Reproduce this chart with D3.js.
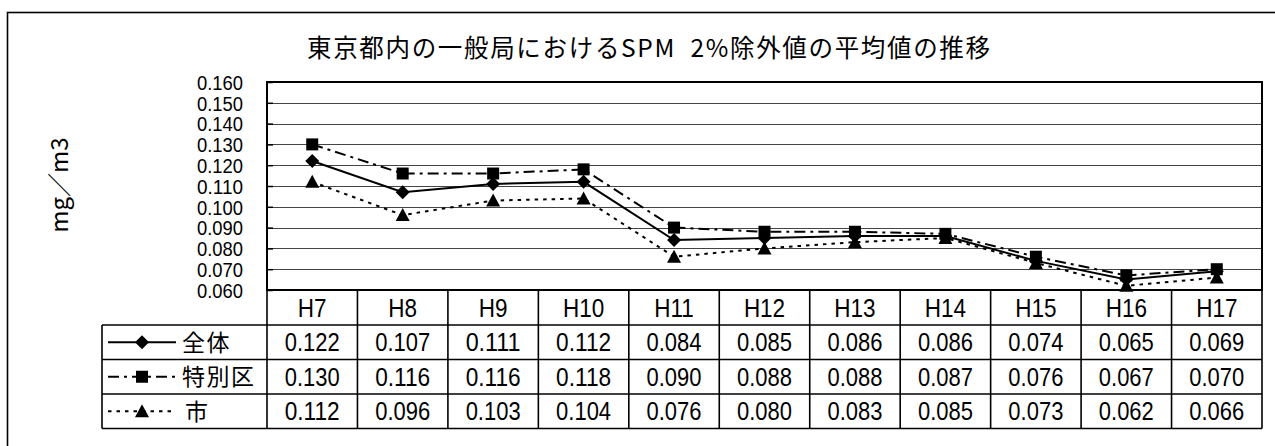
<!DOCTYPE html>
<html>
<head>
<meta charset="utf-8">
<script src="https://cdn.jsdelivr.net/npm/d3@7"></script>
<style>
  html, body { margin: 0; padding: 0; background: #fff; }
  svg { display: block; }
</style>
</head>
<body>
<svg id="chart" width="1275" height="446"></svg>
<script>
// Fiscal years (Heisei)
const categories = ["H7", "H8", "H9", "H10", "H11", "H12", "H13", "H14", "H15", "H16", "H17"];
// Annual 2% excluded value averages of SPM (mg/m3)
const allValues   = [0.122, 0.107, 0.111, 0.112, 0.084, 0.085, 0.086, 0.086, 0.074, 0.065, 0.069];
const wardValues  = [0.130, 0.116, 0.116, 0.118, 0.090, 0.088, 0.088, 0.087, 0.076, 0.067, 0.070];
const cityValues  = [0.112, 0.096, 0.103, 0.104, 0.076, 0.080, 0.083, 0.085, 0.073, 0.062, 0.066];
const seriesNames = ["全体", "特別区", "市"];
const yTicks = [0.060, 0.070, 0.080, 0.090, 0.100, 0.110, 0.120, 0.130, 0.140, 0.150, 0.160];
const titleText = "東京都内の一般局におけるSPM\u00a0\u00a02%除外値の平均値の推移";
const yLabel = "mg／m3";

const series = [
  { name: seriesNames[0], values: allValues,  dash: null,       marker: "diamond" },
  { name: seriesNames[1], values: wardValues, dash: "11,5,3,5", marker: "square" },
  { name: seriesNames[2], values: cityValues, dash: "3.5,5",    marker: "triangle" }
];

const svg = d3.select("#chart");
const latin = "'Liberation Sans', Arial, sans-serif";
const cjk = "'Noto Sans CJK JP', 'Noto Sans CJK SC', sans-serif";

const plot = { left: 267, right: 1262, top: 82, bottom: 290 };
const table = { left: 102, rowH: 34.5 };
const rowTop = [plot.bottom, plot.bottom + 35, plot.bottom + 35 + table.rowH, plot.bottom + 35 + 2 * table.rowH, plot.bottom + 35 + 3 * table.rowH];

const x = d3.scaleBand().domain(categories).range([plot.left, plot.right]).padding(0);
const y = d3.scaleLinear().domain([0.06, 0.16]).range([plot.bottom, plot.top]);
const fmt = d3.format(".3f");

// outer frame (runs off the right and bottom edges)
svg.append("rect")
  .attr("x", 7.5).attr("y", 12.5).attr("width", 1400).attr("height", 600)
  .attr("fill", "none").attr("stroke", "#000").attr("stroke-width", 1.6);

// title
svg.append("text")
  .attr("x", 307).attr("y", 57)
  .attr("font-family", cjk).attr("font-size", 24.5)
  .attr("textLength", 683).attr("lengthAdjust", "spacing")
  .attr("fill", "#000")
  .text(titleText);

// y-axis title
svg.append("text")
  .attr("transform", "translate(68,185) rotate(-90)")
  .attr("text-anchor", "middle")
  .attr("font-family", cjk).attr("font-size", 24)
  .text(yLabel);

// horizontal gridlines
svg.append("g").selectAll("line")
  .data(yTicks.filter(t => t > 0.0605 && t < 0.1595))
  .join("line")
  .attr("x1", plot.left).attr("x2", plot.right)
  .attr("y1", d => Math.round(y(d)) + 0.5).attr("y2", d => Math.round(y(d)) + 0.5)
  .attr("stroke", "#444").attr("stroke-width", 1.2);

// y axis with inward ticks
const yAxis = d3.axisLeft(y).tickValues(yTicks).tickSize(-6).tickPadding(24).tickFormat(fmt);
const yg = svg.append("g").attr("transform", `translate(${plot.left},0)`).call(yAxis);
yg.select(".domain").remove();
yg.selectAll(".tick line").attr("stroke", "#000").attr("stroke-width", 1.5);
yg.selectAll(".tick text")
  .attr("font-family", latin).attr("font-size", 20).attr("fill", "#000")
  .attr("x", -24).attr("dy", "0.36em")
  .attr("textLength", 46).attr("lengthAdjust", "spacingAndGlyphs");

// plot border
svg.append("rect")
  .attr("x", plot.left).attr("y", plot.top)
  .attr("width", plot.right - plot.left).attr("height", plot.bottom - plot.top)
  .attr("fill", "none").attr("stroke", "#000").attr("stroke-width", 2);

// data table grid
const tg = svg.append("g").attr("stroke", "#000").attr("stroke-width", 1.6);
const bottomY = rowTop[4];
categories.forEach(c => {
  tg.append("line").attr("x1", x(c)).attr("x2", x(c)).attr("y1", plot.bottom).attr("y2", bottomY);
});
tg.append("line").attr("x1", plot.right).attr("x2", plot.right).attr("y1", plot.top).attr("y2", bottomY);
tg.append("line").attr("x1", table.left).attr("x2", table.left).attr("y1", rowTop[1]).attr("y2", bottomY);
rowTop.slice(1).forEach(ry => {
  tg.append("line").attr("x1", table.left).attr("x2", plot.right).attr("y1", ry).attr("y2", ry);
});

// table header (category labels)
svg.append("g").selectAll("text")
  .data(categories)
  .join("text")
  .attr("transform", d => `translate(${x(d) + x.bandwidth() / 2},${(rowTop[0] + rowTop[1]) / 2 + 9}) scale(0.9,1)`)
  .attr("text-anchor", "middle")
  .attr("font-family", latin).attr("font-size", 25)
  .text(d => d);

// marker shapes
function markerPath(kind) {
  if (kind === "diamond") return "M0,-7L7,0L0,7L-7,0Z";
  if (kind === "square") return "M-6,-6H6V6H-6Z";
  return "M0,-7L7,6H-7Z";
}

// table rows: legend key + values
series.forEach((s, i) => {
  const cy = (rowTop[i + 1] + rowTop[i + 2]) / 2;
  const key = svg.append("g");
  key.append("line")
    .attr("x1", 108).attr("x2", 176).attr("y1", cy).attr("y2", cy)
    .attr("stroke", "#000").attr("stroke-width", 2)
    .attr("stroke-dasharray", s.dash);
  key.append("path")
    .attr("d", markerPath(s.marker))
    .attr("transform", `translate(142,${cy})`)
    .attr("fill", "#000");
  key.append("text")
    .attr("x", i === 2 ? 185 : 182).attr("y", cy + 8.5)
    .attr("font-family", cjk).attr("font-size", 23)
    .attr("letter-spacing", 1.5)
    .text(s.name);

  svg.append("g").selectAll("text")
    .data(s.values)
    .join("text")
    .attr("x", (d, j) => x(categories[j]) + x.bandwidth() / 2 - 27.5)
    .attr("y", cy + 9)
    .attr("font-family", latin).attr("font-size", 26)
    .attr("textLength", 55).attr("lengthAdjust", "spacingAndGlyphs")
    .text(d => fmt(d));
});

// series lines and markers
const line = d3.line()
  .x((d, j) => x(categories[j]) + x.bandwidth() / 2)
  .y(d => y(d));

series.forEach(s => {
  svg.append("path")
    .datum(s.values)
    .attr("d", line)
    .attr("fill", "none")
    .attr("stroke", "#000").attr("stroke-width", 2)
    .attr("stroke-dasharray", s.dash);
});
series.forEach(s => {
  svg.append("g").selectAll("path")
    .data(s.values)
    .join("path")
    .attr("d", markerPath(s.marker))
    .attr("transform", (d, j) => `translate(${x(categories[j]) + x.bandwidth() / 2},${y(d)})`)
    .attr("fill", "#000");
});
</script>
</body>
</html>
